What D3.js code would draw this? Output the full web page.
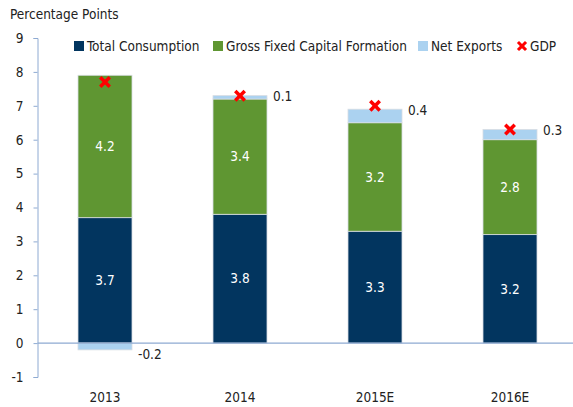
<!DOCTYPE html>
<html>
<head>
<meta charset="utf-8">
<script src="https://cdn.jsdelivr.net/npm/d3@7"></script>
<style>
  html, body { margin: 0; padding: 0; background: #fff; }
  svg text { font-family: "DejaVu Sans Condensed", "Liberation Sans Narrow", sans-serif; font-stretch: condensed; fill: #222; }
</style>
</head>
<body>
<svg id="chart" width="573" height="407"></svg>
<script>
// Contributions to GDP growth, percentage points
const years = ["2013", "2014", "2015E", "2016E"];
const consumption = [3.7, 3.8, 3.3, 3.2];
const capitalFormation = [4.2, 3.4, 3.2, 2.8];
const netExports = [-0.2, 0.1, 0.4, 0.3];
const gdp = [7.7, 7.3, 7.0, 6.3];
const yTicks = [-1, 0, 1, 2, 3, 4, 5, 6, 7, 8, 9];

const colors = {
  consumption: "#02355f",
  capital: "#5f9632",
  exports: "#abd2f0",
  gdp: "#ff0000",
  axis: "#8eaad2"
};

const FS = 13.5;
// plain hyphen for negatives
const fmt1 = v => d3.format(".1f")(v).replace("\u2212", "-");

const svg = d3.select("#chart");
const left = 37.5;

const x = d3.scaleBand().domain(years).range([37.5, 577.5]).paddingInner(0.6).paddingOuter(0.3);
const y = d3.scaleLinear().domain([-1, 9]).range([377, 38]);

// Axes
const yAxis = d3.axisLeft(y).tickValues(yTicks).tickSize(4).tickPadding(10)
  .tickFormat(d => String(d));
const gy = svg.append("g").attr("transform", `translate(${left},0)`).call(yAxis);
gy.select(".domain").attr("stroke", colors.axis);
gy.selectAll(".tick line").attr("stroke", colors.axis);
gy.selectAll(".tick text").attr("font-size", FS).attr("font-family", null).style("fill", "#222");

// Stack segments
const segs = [];
years.forEach((yr, i) => {
  segs.push({ yr, y0: 0, y1: consumption[i], c: colors.consumption, v: consumption[i] });
  const top = consumption[i] + capitalFormation[i];
  segs.push({ yr, y0: consumption[i], y1: top, c: colors.capital, v: capitalFormation[i] });
  if (netExports[i] >= 0) {
    segs.push({ yr, y0: top, y1: top + netExports[i], c: colors.exports, v: netExports[i], ext: true });
  } else {
    segs.push({ yr, y0: netExports[i], y1: 0, c: colors.exports, v: netExports[i], ext: true });
  }
});

svg.append("g").selectAll("rect").data(segs).join("rect")
  .attr("x", d => x(d.yr))
  .attr("width", x.bandwidth())
  .attr("y", d => y(d.y1))
  .attr("height", d => y(d.y0) - y(d.y1))
  .attr("fill", d => d.c)
  .attr("stroke", "#d8dde3")
  .attr("stroke-width", 0.8);

// Zero line
svg.append("line")
  .attr("x1", left).attr("x2", 573)
  .attr("y1", y(0)).attr("y2", y(0))
  .attr("stroke", colors.axis).attr("stroke-width", 1.2);

// Labels inside bars
svg.append("g").selectAll("text").data(segs.filter(d => !d.ext)).join("text")
  .attr("x", d => x(d.yr) + x.bandwidth() / 2)
  .attr("y", d => (y(d.y0) + y(d.y1)) / 2)
  .attr("dy", "0.35em")
  .attr("text-anchor", "middle")
  .attr("font-size", FS)
  .style("fill", "#fff")
  .text(d => fmt1(d.v));

// Net export labels beside bars
svg.append("g").selectAll("text").data(segs.filter(d => d.ext)).join("text")
  .attr("x", d => x(d.yr) + x.bandwidth() + 6)
  .attr("y", d => d.v < 0 ? y(d.y0) + 4 : y(d.y1) + 1)
  .attr("dy", "0.35em")
  .attr("font-size", FS)
  .text(d => fmt1(d.v));

// GDP markers
const cross = "M-6,-3.5 L-3.5,-6 L0,-2.5 L3.5,-6 L6,-3.5 L2.5,0 L6,3.5 L3.5,6 L0,2.5 L-3.5,6 L-6,3.5 L-2.5,0 Z";
svg.append("g").selectAll("path").data(years).join("path")
  .attr("d", cross)
  .attr("transform", (d, i) => `translate(${x(d) + x.bandwidth() / 2},${y(gdp[i])})`)
  .attr("fill", colors.gdp);

// X labels
svg.append("g").selectAll("text").data(years).join("text")
  .attr("x", d => x(d) + x.bandwidth() / 2)
  .attr("y", 397)
  .attr("dy", "0.35em")
  .attr("text-anchor", "middle")
  .attr("font-size", FS)
  .text(d => d);

// Unit title
svg.append("text").attr("x", 10).attr("y", 14).attr("dy", "0.35em")
  .attr("font-size", FS).text("Percentage Points");

// Legend
const legend = [
  { label: "Total Consumption", c: colors.consumption, x: 74 },
  { label: "Gross Fixed Capital Formation", c: colors.capital, x: 213 },
  { label: "Net Exports", c: colors.exports, x: 418 },
  { label: "GDP", c: colors.gdp, x: 517, cross: true }
];
const lg = svg.append("g").selectAll("g").data(legend).join("g")
  .attr("transform", d => `translate(${d.x},46)`);
lg.filter(d => !d.cross).append("rect")
  .attr("x", 0).attr("y", -5).attr("width", 10).attr("height", 10).attr("fill", d => d.c);
lg.filter(d => d.cross).append("path")
  .attr("d", cross).attr("transform", "translate(5,0) scale(0.85)").attr("fill", d => d.c);
lg.append("text").attr("x", 13).attr("dy", "0.35em").attr("font-size", FS).text(d => d.label);
</script>
</body>
</html>
